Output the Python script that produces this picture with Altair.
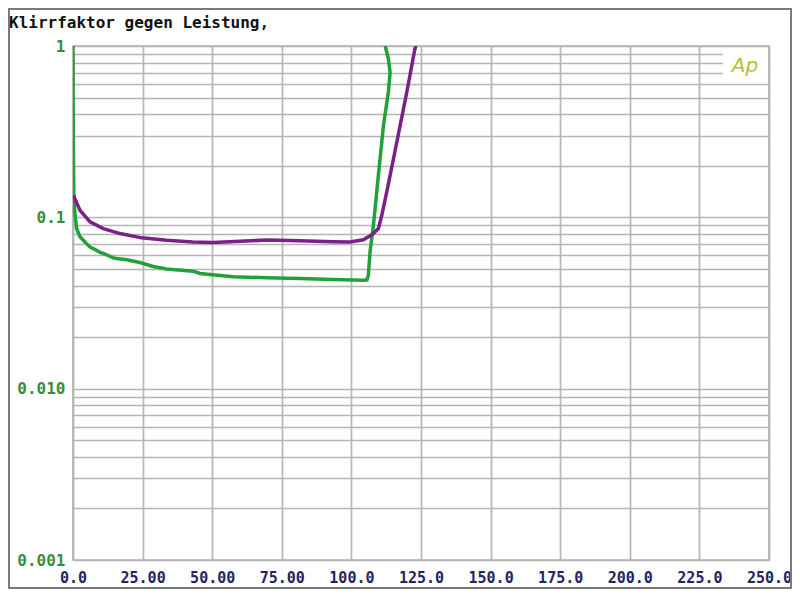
import altair as alt
import pandas as pd

title_text = "Klirrfaktor gegen Leistung,"
logo_text = "Ap"

# green trace (power W, THD %)
green_x = [0, 0.1, 0.3, 0.7, 1.3, 2.5, 3.7, 6.1, 7.3, 9.7, 10.9, 14.5, 15.7, 19.3, 24.0,
           28.8, 33.6, 43.2, 45.6, 57.5, 69.6, 81.5, 93.4, 104.3, 105.6, 106.1, 106.7,
           107.9, 109.1, 110.3, 111.5, 113.3, 113.9, 113.3, 112.4, 112.2]
green_y = [1.0, 0.3, 0.13, 0.105, 0.0858, 0.077, 0.0735, 0.067, 0.0657, 0.0625, 0.0616,
           0.058, 0.0575, 0.0565, 0.0545, 0.0517, 0.050, 0.0485, 0.047, 0.045, 0.0444,
           0.044, 0.0434, 0.043, 0.0432, 0.046, 0.063, 0.0898, 0.141, 0.22, 0.343, 0.54,
           0.70, 0.84, 0.96, 1.0]

# purple trace
purple_x = [0.2, 0.7, 2.5, 6.1, 10.9, 16.9, 24.7, 33.6, 43.0, 50.3, 60.0, 69.6, 81.5,
            93.4, 99.5, 104.3, 106.7, 107.9, 109.7, 110.9, 112.7, 115.1, 117.5, 119.9,
            122.8, 123.2]
purple_y = [0.135, 0.128, 0.110, 0.094, 0.086, 0.0804, 0.0759, 0.0735, 0.0719, 0.0714,
            0.0725, 0.0737, 0.073, 0.072, 0.0718, 0.074, 0.078, 0.0806, 0.086, 0.1025,
            0.141, 0.219, 0.343, 0.537, 0.96, 1.0]

x_ticks = [0, 25, 50, 75, 100, 125, 150, 175, 200, 225, 250]
decades = [0.001, 0.01, 0.1]
y_grid = [round(d * k, 6) for d in decades for k in range(1, 10)] + [1.0]

rows = []
for i, (a, b) in enumerate(zip(green_x, green_y)):
    rows.append({"s": "A", "i": i, "x": a, "y": b})
for i, (a, b) in enumerate(zip(purple_x, purple_y)):
    rows.append({"s": "B", "i": i, "x": a, "y": b})
df = pd.DataFrame(rows)

W, H = 696, 514
grid_col = "#b4b4b4"

x_label_expr = ("datum.value == 0 ? '0.0' : (datum.value < 100 ? format(datum.value, '.2f') "
                ": format(datum.value, '.1f'))")
y_label_expr = ("datum.value >= 0.999 ? '1' : (abs(datum.value - 0.1) < 1e-9 ? '0.1' : "
                "(abs(datum.value - 0.01) < 1e-9 ? '0.010' : "
                "(abs(datum.value - 0.001) < 1e-9 ? '0.001' : '')))")

lines = alt.Chart(df).mark_line(strokeWidth=3.5, clip=True).encode(
    x=alt.X("x:Q", scale=alt.Scale(domain=[0, 250], nice=False),
            axis=alt.Axis(values=x_ticks, labelExpr=x_label_expr, title=None,
                          grid=True, gridColor=grid_col, gridWidth=1.7,
                          domain=False, ticks=False, labelPadding=10,
                          labelFont="DejaVu Sans Mono", labelFontSize=15,
                          labelFontWeight="bold",
                          labelColor="#24245e", labelFlush=False, labelOverlap=False,
                          labelBound=False)),
    y=alt.Y("y:Q", scale=alt.Scale(type="log", domain=[0.001, 1], nice=False),
            axis=alt.Axis(values=y_grid, labelExpr=y_label_expr, title=None,
                          grid=True, gridColor=grid_col, gridWidth=1.7,
                          domain=False, ticks=False, labelPadding=8,
                          labelFont="DejaVu Sans Mono", labelFontSize=16,
                          labelFontWeight="bold", labelColor="#3a8c3a",
                          labelFlush=False, labelOverlap=False, labelBound=False)),
    color=alt.Color("s:N", scale=alt.Scale(domain=["A", "B"], range=["#22a03a", "#7b1f8a"]),
                    legend=None),
    order=alt.Order("i:Q"),
)

one = pd.DataFrame({"t": [title_text], "l": [logo_text]})

title = alt.Chart(one).mark_text(align="left", baseline="alphabetic",
                                 font="DejaVu Sans Mono", fontSize=16, fontWeight="bold",
                                 color="#111111").encode(
    x=alt.value(-64), y=alt.value(-18), text="t:N")

logo_bg = alt.Chart(one).mark_rect(fill="white").encode(
    x=alt.value(650), x2=alt.value(695), y=alt.value(4), y2=alt.value(34))

logo = alt.Chart(one).mark_text(align="center", baseline="middle", font="DejaVu Sans",
                                fontSize=20, fontStyle="italic", color="#b8c030").encode(
    x=alt.value(672), y=alt.value(20), text="l:N")

frame = alt.Chart(one).mark_rect(fill=None, stroke="#7a7a7a", strokeWidth=2).encode(
    x=alt.value(-64), x2=alt.value(W + 22), y=alt.value(-37), y2=alt.value(H + 28))

chart = alt.layer(logo_bg, lines, logo, title, frame).properties(
    width=W, height=H,
    autosize=alt.AutoSizeParams(type="none"),
    padding={"left": 65, "top": 38, "right": 23, "bottom": 29},
).configure_view(stroke=grid_col, strokeWidth=1.7)

chart.save("out.html", embed_options={"renderer": "svg", "actions": False})
